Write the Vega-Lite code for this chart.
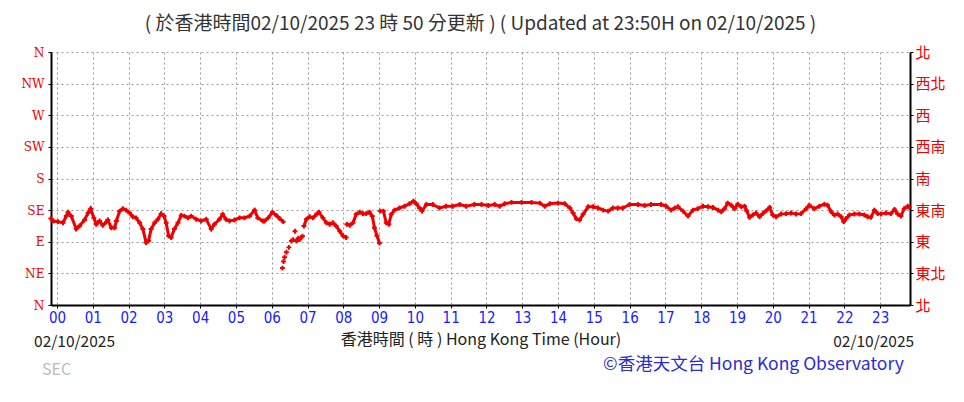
{
  "$schema": "https://vega.github.io/schema/vega-lite/v6.json",
  "width": 859,
  "height": 253,
  "autosize": {"type": "none"},
  "padding": {"left": 51, "top": 52, "right": 54, "bottom": 97},
  "background": "white",
  "config": {
    "view": {"stroke": null},
    "font": "Noto Sans CJK TC"
  },
  "title": {
    "text": "( 於香港時間02/10/2025 23 時 50 分更新 ) ( Updated at 23:50H on 02/10/2025 )",
    "font": "Noto Sans CJK TC",
    "fontSize": 19,
    "fontWeight": "normal",
    "color": "#333333",
    "anchor": "middle",
    "offset": 11
  },
  "data": {
    "values": [
      {"h": -0.17, "d": 123, "s": "a"}, {"h": -0.1, "d": 119.5, "s": "a"}, {"h": 0.03, "d": 118.6, "s": "a"}, {"h": 0.17, "d": 117, "s": "a"},
      {"h": 0.26, "d": 126.5, "s": "a"}, {"h": 0.31, "d": 132, "s": "a"}, {"h": 0.4, "d": 126.5, "s": "a"}, {"h": 0.54, "d": 108, "s": "a"},
      {"h": 0.63, "d": 112.5, "s": "a"}, {"h": 0.77, "d": 121, "s": "a"}, {"h": 0.87, "d": 131, "s": "a"}, {"h": 0.94, "d": 137, "s": "a"},
      {"h": 1.03, "d": 124, "s": "a"}, {"h": 1.1, "d": 115, "s": "a"}, {"h": 1.19, "d": 119.5, "s": "a"}, {"h": 1.28, "d": 113.5, "s": "a"},
      {"h": 1.38, "d": 118, "s": "a"}, {"h": 1.42, "d": 121, "s": "a"}, {"h": 1.52, "d": 110, "s": "a"}, {"h": 1.61, "d": 110, "s": "a"},
      {"h": 1.66, "d": 119.5, "s": "a"}, {"h": 1.75, "d": 133.6, "s": "a"}, {"h": 1.84, "d": 137, "s": "a"}, {"h": 1.93, "d": 135, "s": "a"},
      {"h": 2.03, "d": 131, "s": "a"}, {"h": 2.12, "d": 125.6, "s": "a"}, {"h": 2.21, "d": 124, "s": "a"}, {"h": 2.31, "d": 117, "s": "a"},
      {"h": 2.4, "d": 108, "s": "a"}, {"h": 2.49, "d": 89, "s": "a"}, {"h": 2.56, "d": 91.4, "s": "a"}, {"h": 2.63, "d": 108, "s": "a"},
      {"h": 2.73, "d": 117, "s": "a"}, {"h": 2.82, "d": 122, "s": "a"}, {"h": 2.91, "d": 130, "s": "a"}, {"h": 2.99, "d": 126.5, "s": "a"},
      {"h": 3.05, "d": 117, "s": "a"}, {"h": 3.12, "d": 98.4, "s": "a"}, {"h": 3.19, "d": 96, "s": "a"}, {"h": 3.28, "d": 108, "s": "a"},
      {"h": 3.38, "d": 117, "s": "a"}, {"h": 3.47, "d": 127.5, "s": "a"}, {"h": 3.56, "d": 126.5, "s": "a"}, {"h": 3.66, "d": 124, "s": "a"},
      {"h": 3.75, "d": 126.5, "s": "a"}, {"h": 3.89, "d": 122, "s": "a"}, {"h": 4.03, "d": 119.5, "s": "a"}, {"h": 4.17, "d": 122, "s": "a"},
      {"h": 4.31, "d": 108, "s": "a"}, {"h": 4.4, "d": 115, "s": "a"}, {"h": 4.54, "d": 122, "s": "a"}, {"h": 4.63, "d": 129, "s": "a"},
      {"h": 4.72, "d": 122, "s": "a"}, {"h": 4.82, "d": 119.5, "s": "a"}, {"h": 4.96, "d": 121, "s": "a"}, {"h": 5.1, "d": 124, "s": "a"},
      {"h": 5.24, "d": 124, "s": "a"}, {"h": 5.38, "d": 126.5, "s": "a"}, {"h": 5.52, "d": 135, "s": "a"}, {"h": 5.61, "d": 124, "s": "a"},
      {"h": 5.75, "d": 119.5, "s": "a"}, {"h": 5.8, "d": 119.5, "s": "a"}, {"h": 5.9, "d": 124, "s": "a"}, {"h": 6.02, "d": 132, "s": "a"},
      {"h": 6.13, "d": 127.5, "s": "a"}, {"h": 6.22, "d": 123, "s": "a"}, {"h": 6.32, "d": 118.6, "s": "a"},
      {"h": 6.3, "d": 52.5, "s": "b"}, {"h": 6.33, "d": 62, "s": "b"}, {"h": 6.36, "d": 68, "s": "b"}, {"h": 6.41, "d": 75, "s": "b"},
      {"h": 6.48, "d": 82, "s": "b"}, {"h": 6.55, "d": 91, "s": "b"}, {"h": 6.6, "d": 93, "s": "b"}, {"h": 6.65, "d": 105, "s": "b"},
      {"h": 6.69, "d": 91, "s": "b"}, {"h": 6.74, "d": 95, "s": "b"}, {"h": 6.78, "d": 93, "s": "b"}, {"h": 6.82, "d": 96, "s": "b"},
      {"h": 6.86, "d": 98, "s": "b"},
      {"h": 6.9, "d": 112.5, "s": "c"}, {"h": 6.97, "d": 122, "s": "c"}, {"h": 7.06, "d": 125.6, "s": "c"}, {"h": 7.15, "d": 124, "s": "c"},
      {"h": 7.25, "d": 129, "s": "c"}, {"h": 7.32, "d": 132, "s": "c"}, {"h": 7.43, "d": 124, "s": "c"}, {"h": 7.53, "d": 117, "s": "c"},
      {"h": 7.62, "d": 115, "s": "c"}, {"h": 7.71, "d": 117, "s": "c"}, {"h": 7.8, "d": 112.5, "s": "c"}, {"h": 7.9, "d": 105, "s": "c"},
      {"h": 7.99, "d": 98.4, "s": "c"}, {"h": 8.08, "d": 96, "s": "c"},
      {"h": 8.1, "d": 115, "s": "d"}, {"h": 8.18, "d": 113.5, "s": "d"}, {"h": 8.27, "d": 117, "s": "d"}, {"h": 8.36, "d": 129, "s": "d"},
      {"h": 8.46, "d": 132, "s": "d"}, {"h": 8.55, "d": 130, "s": "d"}, {"h": 8.64, "d": 130, "s": "d"}, {"h": 8.73, "d": 132, "s": "d"},
      {"h": 8.81, "d": 126.5, "s": "d"}, {"h": 8.87, "d": 110, "s": "d"}, {"h": 8.94, "d": 98.4, "s": "d"}, {"h": 9.01, "d": 88, "s": "d"},
      {"h": 9.03, "d": 133.6, "s": "e"}, {"h": 9.12, "d": 133.6, "s": "e"}, {"h": 9.2, "d": 117, "s": "e"}, {"h": 9.27, "d": 115, "s": "e"},
      {"h": 9.34, "d": 129, "s": "e"}, {"h": 9.43, "d": 135, "s": "e"}, {"h": 9.57, "d": 138, "s": "e"}, {"h": 9.71, "d": 140.6, "s": "e"},
      {"h": 9.85, "d": 144, "s": "e"}, {"h": 9.96, "d": 147.7, "s": "e"}, {"h": 10.04, "d": 144, "s": "e"}, {"h": 10.13, "d": 138, "s": "e"},
      {"h": 10.2, "d": 133.6, "s": "e"}, {"h": 10.32, "d": 143, "s": "e"}, {"h": 10.5, "d": 143, "s": "e"}, {"h": 10.69, "d": 138, "s": "e"},
      {"h": 10.87, "d": 140.6, "s": "e"}, {"h": 11.06, "d": 140.6, "s": "e"}, {"h": 11.25, "d": 143, "s": "e"}, {"h": 11.43, "d": 140.6, "s": "e"},
      {"h": 11.66, "d": 143, "s": "e"}, {"h": 11.86, "d": 143, "s": "e"}, {"h": 12.05, "d": 141.6, "s": "e"}, {"h": 12.23, "d": 143, "s": "e"},
      {"h": 12.37, "d": 140.6, "s": "e"}, {"h": 12.51, "d": 144, "s": "e"}, {"h": 12.7, "d": 146, "s": "e"}, {"h": 12.98, "d": 146, "s": "e"},
      {"h": 13.26, "d": 146, "s": "e"}, {"h": 13.49, "d": 145, "s": "e"}, {"h": 13.63, "d": 140.6, "s": "e"}, {"h": 13.77, "d": 144, "s": "e"},
      {"h": 14.0, "d": 145, "s": "e"}, {"h": 14.19, "d": 144, "s": "e"}, {"h": 14.33, "d": 138, "s": "e"}, {"h": 14.42, "d": 131, "s": "e"},
      {"h": 14.51, "d": 122.8, "s": "e"}, {"h": 14.6, "d": 121, "s": "e"}, {"h": 14.7, "d": 129, "s": "e"}, {"h": 14.84, "d": 139.7, "s": "e"},
      {"h": 14.98, "d": 139.7, "s": "e"}, {"h": 15.12, "d": 138, "s": "e"}, {"h": 15.26, "d": 135, "s": "e"}, {"h": 15.4, "d": 133.6, "s": "e"},
      {"h": 15.53, "d": 138, "s": "e"}, {"h": 15.67, "d": 138, "s": "e"}, {"h": 15.81, "d": 138, "s": "e"}, {"h": 16.0, "d": 143, "s": "e"},
      {"h": 16.23, "d": 143, "s": "e"}, {"h": 16.42, "d": 141.6, "s": "e"}, {"h": 16.6, "d": 143, "s": "e"}, {"h": 16.88, "d": 143, "s": "e"},
      {"h": 17.02, "d": 140.6, "s": "e"}, {"h": 17.16, "d": 135, "s": "e"}, {"h": 17.26, "d": 138, "s": "e"}, {"h": 17.35, "d": 139.7, "s": "e"},
      {"h": 17.49, "d": 133.6, "s": "e"}, {"h": 17.63, "d": 126.5, "s": "e"}, {"h": 17.77, "d": 135, "s": "e"}, {"h": 17.9, "d": 137, "s": "e"},
      {"h": 18.05, "d": 140.6, "s": "e"}, {"h": 18.19, "d": 139.7, "s": "e"}, {"h": 18.33, "d": 138.7, "s": "e"}, {"h": 18.47, "d": 135, "s": "e"},
      {"h": 18.56, "d": 132.6, "s": "e"}, {"h": 18.65, "d": 137, "s": "e"}, {"h": 18.74, "d": 145, "s": "e"}, {"h": 18.84, "d": 142, "s": "e"},
      {"h": 18.93, "d": 137, "s": "e"}, {"h": 19.02, "d": 143.4, "s": "e"}, {"h": 19.12, "d": 139.7, "s": "e"}, {"h": 19.21, "d": 140.6, "s": "e"},
      {"h": 19.27, "d": 134, "s": "e"}, {"h": 19.35, "d": 124.7, "s": "e"}, {"h": 19.44, "d": 128, "s": "e"}, {"h": 19.53, "d": 131, "s": "e"},
      {"h": 19.63, "d": 125.6, "s": "e"}, {"h": 19.72, "d": 130, "s": "e"}, {"h": 19.81, "d": 134, "s": "e"}, {"h": 19.91, "d": 138.7, "s": "e"},
      {"h": 20.0, "d": 128, "s": "e"}, {"h": 20.09, "d": 125.6, "s": "e"}, {"h": 20.23, "d": 129.4, "s": "e"}, {"h": 20.37, "d": 130, "s": "e"},
      {"h": 20.51, "d": 131, "s": "e"}, {"h": 20.65, "d": 129.4, "s": "e"}, {"h": 20.79, "d": 130, "s": "e"}, {"h": 20.93, "d": 137, "s": "e"},
      {"h": 21.02, "d": 142, "s": "e"}, {"h": 21.16, "d": 137, "s": "e"}, {"h": 21.3, "d": 140.6, "s": "e"}, {"h": 21.44, "d": 143.4, "s": "e"},
      {"h": 21.53, "d": 142, "s": "e"}, {"h": 21.63, "d": 132.6, "s": "e"}, {"h": 21.72, "d": 128, "s": "e"}, {"h": 21.81, "d": 129.4, "s": "e"},
      {"h": 21.91, "d": 125.6, "s": "e"}, {"h": 21.98, "d": 118.6, "s": "e"}, {"h": 22.05, "d": 123, "s": "e"}, {"h": 22.14, "d": 128, "s": "e"},
      {"h": 22.28, "d": 129.4, "s": "e"}, {"h": 22.42, "d": 129.4, "s": "e"}, {"h": 22.56, "d": 128, "s": "e"}, {"h": 22.65, "d": 125.6, "s": "e"},
      {"h": 22.74, "d": 124.7, "s": "e"}, {"h": 22.84, "d": 135, "s": "e"}, {"h": 22.93, "d": 130, "s": "e"}, {"h": 23.02, "d": 129.4, "s": "e"},
      {"h": 23.16, "d": 131, "s": "e"}, {"h": 23.3, "d": 130, "s": "e"}, {"h": 23.4, "d": 136, "s": "e"}, {"h": 23.49, "d": 129.4, "s": "e"},
      {"h": 23.58, "d": 126.5, "s": "e"}, {"h": 23.67, "d": 137, "s": "e"}, {"h": 23.77, "d": 140.6, "s": "e"}, {"h": 23.81, "d": 139, "s": "e"}
    ]
  },
  "resolve": {"axis": {"x": "independent", "y": "independent"}},
  "layer": [
    {
      "transform": [{"filter": "datum.s != 'b'"}],
      "mark": {"type": "line", "color": "#ee0000", "strokeWidth": 3, "clip": true},
      "encoding": {
        "detail": {"field": "s"},
        "x": {
          "field": "h", "type": "quantitative",
          "scale": {"domain": [-0.1667, 23.8333], "nice": false, "zero": false},
          "axis": {
            "values": [0,1,2,3,4,5,6,7,8,9,10,11,12,13,14,15,16,17,18,19,20,21,22,23],
            "labelExpr": "datum.value < 10 ? '0' + datum.value : '' + datum.value",
            "labelColor": "#1a1aff",
            "labelFont": "DejaVu Sans Condensed",
            "labelFontSize": 15,
            "labelPadding": 2,
            "labelFlush": false,
            "labelOverlap": false,
            "labelBound": false,
            "domainColor": "#000000",
            "domainWidth": 2,
            "tickColor": "#000000",
            "tickSize": 3,
            "grid": true,
            "gridColor": "#999999",
            "gridDash": [2, 3],
            "gridWidth": 1,
            "title": "香港時間 ( 時 ) Hong Kong Time (Hour)",
            "titleFont": "Noto Sans CJK TC",
            "titleFontSize": 16,
            "titleFontWeight": "normal",
            "titleColor": "#222222",
            "titlePadding": 6
          }
        },
        "y": {
          "field": "d", "type": "quantitative",
          "scale": {"domain": [0, 360], "nice": false, "zero": false},
          "axis": {
            "orient": "left",
            "values": [0, 45, 90, 135, 180, 225, 270, 315, 360],
            "labelExpr": "['N','NE','E','SE','S','SW','W','NW','N'][round(datum.value / 45)]",
            "labelColor": "#ee0000",
            "labelFont": "DejaVu Serif Condensed",
            "labelFontSize": 13.5,
            "labelPadding": 4,
            "labelFlush": false,
            "labelOverlap": false,
            "domainColor": "#000000",
            "domainWidth": 2,
            "tickColor": "#000000",
            "tickSize": 3,
            "grid": true,
            "gridColor": "#999999",
            "gridDash": [2, 3],
            "gridWidth": 1,
            "title": null
          }
        }
      }
    },
    {
      "mark": {"type": "point", "shape": "cross", "filled": true, "color": "#ee0000", "size": 24, "opacity": 1},
      "encoding": {
        "x": {"field": "h", "type": "quantitative", "axis": null},
        "y": {
          "field": "d", "type": "quantitative",
          "axis": {
            "orient": "right",
            "values": [0, 45, 90, 135, 180, 225, 270, 315, 360],
            "labelExpr": "['北','東北','東','東南','南','西南','西','西北','北'][round(datum.value / 45)]",
            "labelColor": "#ee0000",
            "labelFont": "Noto Sans CJK TC",
            "labelFontSize": 15,
            "labelPadding": 2,
            "labelFlush": false,
            "labelOverlap": false,
            "domainColor": "#000000",
            "domainWidth": 2,
            "tickColor": "#000000",
            "tickSize": 3,
            "grid": false,
            "title": null
          }
        }
      }
    },
    {
      "data": {"values": [{"t": "02/10/2025"}]},
      "mark": {"type": "text", "align": "left", "baseline": "middle", "font": "Noto Sans CJK TC", "fontSize": 15.5, "color": "#222222", "clip": false},
      "encoding": {
        "text": {"field": "t"},
        "x": {"datum": -0.64, "axis": null},
        "y": {"datum": -52, "axis": null}
      }
    },
    {
      "data": {"values": [{"t": "02/10/2025"}]},
      "mark": {"type": "text", "align": "right", "baseline": "middle", "font": "Noto Sans CJK TC", "fontSize": 15.5, "color": "#222222", "clip": false},
      "encoding": {
        "text": {"field": "t"},
        "x": {"datum": 23.95, "axis": null},
        "y": {"datum": -52, "axis": null}
      }
    },
    {
      "data": {"values": [{"t": "SEC"}]},
      "mark": {"type": "text", "align": "left", "baseline": "middle", "font": "Noto Sans CJK TC", "fontSize": 16, "color": "#bbbbbb", "clip": false},
      "encoding": {
        "text": {"field": "t"},
        "x": {"datum": -0.42, "axis": null},
        "y": {"datum": -93, "axis": null}
      }
    },
    {
      "data": {"values": [{"t": "©香港天文台 Hong Kong Observatory"}]},
      "mark": {"type": "text", "align": "right", "baseline": "middle", "font": "Noto Sans CJK TC", "fontSize": 17.5, "color": "#2b2bd6", "clip": false},
      "encoding": {
        "text": {"field": "t"},
        "x": {"datum": 23.66, "axis": null},
        "y": {"datum": -86, "axis": null}
      }
    }
  ]
}
